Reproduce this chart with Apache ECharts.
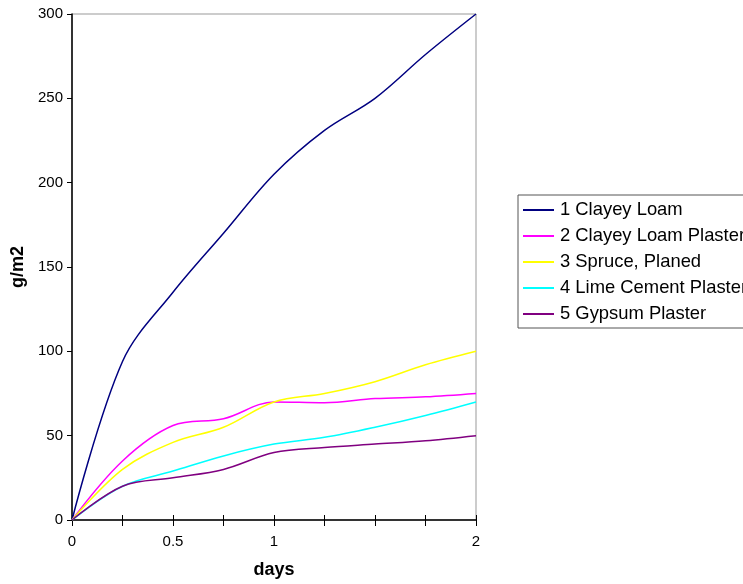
<!DOCTYPE html>
<html>
<head>
<meta charset="utf-8">
<script src="https://cdn.jsdelivr.net/npm/echarts@6/dist/echarts.min.js"></script>
<style>html,body{margin:0;padding:0;background:#fff}#c{width:743px;height:584px}</style>
</head>
<body>
<div id="c"></div>
<script>
const days = ['0', '0.25', '0.5', '0.75', '1', '1.25', '1.5', '1.75', '2'];
const dayLabels = ['0', '', '0.5', '', '1', '', '', '', '2'];
const seriesNames = ['1 Clayey Loam', '2 Clayey Loam Plaster', '3 Spruce, Planed', '4 Lime Cement Plaster', '5 Gypsum Plaster'];
const clayeyLoam = [0, 94, 135, 170, 205, 231, 250, 276, 300];
const clayeyLoamPlaster = [0, 35, 56, 60, 70, 69.5, 72, 73, 75];
const sprucePlaned = [0, 30, 46, 55, 70, 75, 82, 92, 100];
const limeCementPlaster = [0, 20, 29, 38, 45, 49, 55, 62, 70];
const gypsumPlaster = [0, 20, 25, 30, 40, 43, 45, 47, 50];
const yTicks = [0, 50, 100, 150, 200, 250, 300];

const colors = ['#000080', '#FF00FF', '#FFFF00', '#00FFFF', '#800080'];
const allData = [clayeyLoam, clayeyLoamPlaster, sprucePlaned, limeCementPlaster, gypsumPlaster];
const FONT = '"Liberation Sans", Arial, sans-serif';

const chart = echarts.init(document.getElementById('c'), null, {renderer: 'canvas'});
chart.setOption({
  animation: false,
  backgroundColor: '#fff',
  grid: {left: 72, right: 267, top: 14, bottom: 63, show: true, borderColor: '#999', borderWidth: 1, backgroundColor: 'transparent'},
  legend: {
    left: 518, top: 195, orient: 'vertical',
    padding: [5, 80, 4, 5],
    borderColor: '#555', borderWidth: 1, borderRadius: 0,
    backgroundColor: '#fff',
    itemWidth: 31, itemHeight: 2, itemGap: 6,
    icon: 'rect',
    textStyle: {fontFamily: FONT, fontSize: 18.4, color: '#000', lineHeight: 20, padding: [0, 0, 0, 1]},
    data: seriesNames
  },
  xAxis: [{
    type: 'category', data: days, boundaryGap: false,
    name: 'days', nameLocation: 'middle', nameGap: 41,
    nameTextStyle: {fontFamily: FONT, fontSize: 18, fontWeight: 'bold', color: '#000'},
    axisLine: {lineStyle: {color: '#000', width: 1.5}},
    axisTick: {show: true, length: 6, lineStyle: {color: '#000'}, interval: 0},
    axisLabel: {fontFamily: FONT, fontSize: 15, color: '#000', margin: 14, interval: 0,
      formatter: function (v, i) { return dayLabels[i]; }},
    splitLine: {show: false}
  }, {
    type: 'category', data: days, boundaryGap: false, position: 'bottom',
    axisLine: {show: false},
    axisTick: {show: true, inside: true, length: 5, lineStyle: {color: '#000'}, interval: 0},
    axisLabel: {show: false},
    splitLine: {show: false}
  }],
  yAxis: {
    type: 'value', min: yTicks[0], max: yTicks[yTicks.length - 1], interval: 50,
    name: 'g/m2', nameLocation: 'middle', nameGap: 45,
    nameTextStyle: {fontFamily: FONT, fontSize: 18, fontWeight: 'bold', color: '#000'},
    axisLine: {show: true, lineStyle: {color: '#000', width: 1.5}},
    axisTick: {show: true, length: 5, lineStyle: {color: '#000'}},
    axisLabel: {fontFamily: FONT, fontSize: 15, color: '#000', margin: 9},
    splitLine: {show: false}
  },
  series: seriesNames.map((n, i) => ({
    name: n, type: 'line', data: allData[i], smooth: 0.35,
    symbol: 'none', color: colors[i],
    lineStyle: {color: colors[i], width: 1.5}
  }))
});
</script>
</body>
</html>
